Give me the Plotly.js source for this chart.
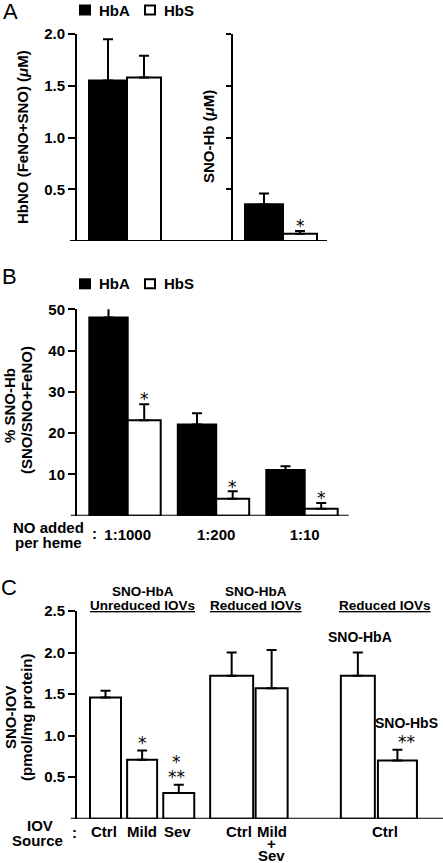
<!DOCTYPE html>
<html><head><meta charset="utf-8">
<script src="https://cdn.plot.ly/plotly-3.0.1.min.js"></script>
<style>html,body{margin:0;padding:0;background:#fff;}#chart{width:443px;height:863px;}</style>
</head><body><div id="chart"></div>
<script>
// ---------------- data ----------------
// Panel A
const aCategories = ['HbNO', 'SNO-Hb'];
const aHbA = [1.55, 0.355];
const aHbAErr = [0.40, 0.105];
const aHbS = [1.58, 0.07];
const aHbSErr = [0.21, 0.027];
const aSig = ['', '*'];
const aYTicks = [0.5, 1.0, 1.5, 2.0];
// Panel B
const bCategories = ['1:1000', '1:200', '1:10'];
const bHbA = [48.0, 22.1, 11.1];
const bHbAErr = [3.7, 2.7, 0.9];
const bHbS = [23.1, 4.1, 1.7];
const bHbSErr = [3.9, 1.8, 1.4];
const bSig = ['*', '*', '*'];
const bYTicks = [10, 20, 30, 40, 50];
// Panel C
const cBarNames = ['Ctrl', 'Mild', 'Sev', 'Ctrl', 'Mild+Sev', 'SNO-HbA', 'SNO-HbS'];
const cBarGroup = [0, 0, 0, 1, 1, 2, 2];
const cValues = [1.46, 0.71, 0.31, 1.72, 1.57, 1.72, 0.70];
const cErr = [0.08, 0.11, 0.10, 0.28, 0.46, 0.28, 0.13];
const cSig = [[], ['*'], ['*', '**'], [], [], [], ['**']];
const cBarLabels = ['', '', '', '', '', 'SNO-HbA', 'SNO-HbS'];
const cGroupTitles = [['SNO-HbA', 'Unreduced IOVs'], ['SNO-HbA', 'Reduced IOVs'], ['', 'Reduced IOVs']];
const cTickText = [['Ctrl'], ['Mild'], ['Sev'], ['Ctrl'], ['Mild', '+', 'Sev'], ['Ctrl']];
const cTickBars = [[0], [1], [2], [3], [4], [5, 6]];
const cYTicks = [0.5, 1.0, 1.5, 2.0, 2.5];

// ---------------- geometry / style (pixels) ----------------
const W = 443, H = 863;
const PX = x => x / W, PY = y => 1 - y / H;
const FAM = 'Liberation Sans, Arial, Helvetica, sans-serif';
const fB = s => ({family: FAM, size: s, color: '#000', weight: 700});
const fR = s => ({family: FAM, size: s, color: '#000', weight: 400});
const STAR_FONT = {family: 'DejaVu Sans, sans-serif', size: 17, color: '#000'};
const STAR_LIFT = 4.2;

const GA = {left: 77, right: 327, top: 34, base: 241, stub: 70, axis2: 232, c0: 127, pitch: 156, wA: 38, wS: 34};
const GB = {left: 77, right: 348.7, top: 309.3, base: 515.7, stub: 70.7, c0: 127.7, pitch: 88.5, wA: 38.4, wS: 33};
const GC = {left: 77, right: 443, top: 611, base: 818.7, stub: 70.7, c0: 105.5, slot: 37,
            groupStart: [0, 3.41, 6.82], groupStep: [0.99, 1.08, 1.07], widthsPx: [31, 30, 31, 43, 32, 34, 39],
            annShiftPx: [0, 0, -2, 0, 0, 2, 9], tickShiftPx: [-2, 0, -1, 7, 0, 7]};

function errBar(v) {
  return {type: 'data', array: v, symmetric: false, arrayminus: v.map(() => 0),
          color: '#000', thickness: 2, width: 5};
}
function bar(x, y, err, fill, xa, ya, offset, width) {
  return {type: 'bar', x, y, xaxis: xa, yaxis: ya, offset, width,
          marker: {color: fill, line: {color: '#000', width: 2}},
          error_y: errBar(err), hoverinfo: 'skip', showlegend: false};
}

const traces = [];
const annotations = [];
const shapes = [];

// ---------- Panel A ----------
const aAxes = ['y', 'y2'];
const aWA = GA.wA / GA.pitch, aWS = GA.wS / GA.pitch;
aCategories.forEach((cat, i) => {
  traces.push(bar([cat], [aHbA[i]], [aHbAErr[i]], '#000', 'x', aAxes[i], -aWA, aWA));
  traces.push(bar([cat], [aHbS[i]], [aHbSErr[i]], '#fff', 'x', aAxes[i], 0, aWS));
  if (aSig[i]) annotations.push({xref: 'x', yref: aAxes[i], x: i + aWS / 2, y: aHbS[i] + aHbSErr[i],
    text: aSig[i], showarrow: false, yanchor: 'middle', yshift: 9 - STAR_LIFT, font: STAR_FONT});
});

// ---------- Panel B ----------
const bWA = GB.wA / GB.pitch, bWS = GB.wS / GB.pitch;
traces.push(bar(bCategories, bHbA, bHbAErr, '#000', 'x2', 'y3', -bWA, bWA));
traces.push(bar(bCategories, bHbS, bHbSErr, '#fff', 'x2', 'y3', 0, bWS));
bSig.forEach((s, i) => {
  if (s) annotations.push({xref: 'x2', yref: 'y3', x: i + bWS / 2, y: bHbS[i] + bHbSErr[i],
    text: s, showarrow: false, yanchor: 'middle', yshift: 9 - STAR_LIFT, font: STAR_FONT});
});

// ---------- Panel C ----------
const cWithin = cBarGroup.map((g, i) => cBarGroup.slice(0, i).filter(v => v === g).length);
const cX = cBarGroup.map((g, i) => GC.groupStart[g] + cWithin[i] * GC.groupStep[g]);
const cW = GC.widthsPx.map(w => w / GC.slot);
traces.push({type: 'bar', x: cX, y: cValues, width: cW, xaxis: 'x3', yaxis: 'y4',
  marker: {color: '#fff', line: {color: '#000', width: 2}}, error_y: errBar(cErr),
  text: cBarNames, textposition: 'none', hoverinfo: 'skip', showlegend: false});
cValues.forEach((v, i) => {
  let off = 12;
  const lines = cSig[i].slice().reverse();
  lines.forEach(s => {
    annotations.push({xref: 'x3', yref: 'y4', x: cX[i], y: v + cErr[i], text: s, showarrow: false,
      yanchor: 'middle', yshift: off - STAR_LIFT, xshift: GC.annShiftPx[i], font: STAR_FONT});
    off += 15;
  });
  if (cBarLabels[i]) {
    if (!lines.length) off = 16;
    annotations.push({xref: 'x3', yref: 'y4', x: cX[i], y: v + cErr[i], text: cBarLabels[i], showarrow: false,
      yanchor: 'middle', yshift: off, xshift: GC.annShiftPx[i], font: fB(14)});
  }
});
const cTickVals = cTickBars.map(b => b.reduce((s, k) => s + cX[k], 0) / b.length);
const cTickLineY = [831, 843.5, 855];
cTickText.forEach((lines, t) => {
  lines.forEach((ln, k) => {
    annotations.push({xref: 'x3', yref: 'paper', x: cTickVals[t], y: PY(cTickLineY[k]), text: ln,
      showarrow: false, yanchor: 'middle', xshift: GC.tickShiftPx[t], font: fB(15)});
  });
});

// ---------- axes ----------
function yAxis(g, range, ticks, fmt, extra) {
  return Object.assign({domain: [PY(g.base), PY(g.top)], range, tickvals: ticks, ticktext: ticks.map(fmt),
    showline: true, linewidth: 2, linecolor: '#000', ticks: 'outside', ticklen: 7, tickwidth: 2, tickcolor: '#000',
    tickfont: fB(15), showgrid: false, zeroline: false, fixedrange: true}, extra || {});
}
const f1 = v => v.toFixed(1);
const layout = {
  width: W, height: H, margin: {l: 0, r: 0, t: 0, b: 0}, paper_bgcolor: '#fff', plot_bgcolor: 'rgba(0,0,0,0)',
  showlegend: false, barmode: 'overlay',
  xaxis: {domain: [PX(GA.left), PX(GA.right)], anchor: 'y', type: 'category', categoryorder: 'array',
    categoryarray: aCategories, range: [(GA.left - GA.c0) / GA.pitch, (GA.right - GA.c0) / GA.pitch],
    showline: false, showticklabels: false, ticks: '', showgrid: false, zeroline: false, fixedrange: true},
  yaxis: yAxis(GA, [0, 2.0], aYTicks, f1, {anchor: 'x'}),
  yaxis2: yAxis(GA, [0, 2.0], aYTicks, f1, {overlaying: 'y', anchor: 'free', position: PX(GA.axis2),
    showticklabels: false, ticklen: 5}),
  xaxis2: {domain: [PX(GB.left), PX(GB.right)], anchor: 'y3', type: 'category', categoryorder: 'array',
    categoryarray: bCategories, range: [(GB.left - GB.c0) / GB.pitch, (GB.right - GB.c0) / GB.pitch],
    showline: false, ticks: '', tickfont: fB(15), ticklabelstandoff: 8, showgrid: false, zeroline: false, fixedrange: true},
  yaxis3: yAxis(GB, [0, 50], bYTicks, String, {anchor: 'x2'}),
  xaxis3: {domain: [PX(GC.left), PX(GC.right)], anchor: 'y4', type: 'linear',
    range: [(GC.left - GC.c0) / GC.slot, (GC.right - GC.c0) / GC.slot],
    showticklabels: false, showline: false, ticks: '', showgrid: false, zeroline: false, fixedrange: true},
  yaxis4: yAxis(GC, [0, 2.5], cYTicks, f1, {anchor: 'x3'}),
  shapes, annotations
};

// baselines
[[GA, 'y'], [GB, 'y3'], [GC, 'y4']].forEach(([g, ya]) => {
  shapes.push({type: 'line', xref: 'paper', yref: ya, x0: PX(g.stub), x1: PX(g.right), y0: 0, y1: 0,
    line: {color: '#000', width: 2}});
});

// legends (A and B)
function legend(cy) {
  shapes.push({type: 'rect', xref: 'paper', yref: 'paper', x0: PX(79), x1: PX(91), y0: PY(cy - 5.5), y1: PY(cy + 5.5),
    fillcolor: '#000', line: {width: 0}});
  shapes.push({type: 'rect', xref: 'paper', yref: 'paper', x0: PX(145), x1: PX(155), y0: PY(cy - 4.5), y1: PY(cy + 4.5),
    fillcolor: '#fff', line: {color: '#000', width: 2}});
  annotations.push({xref: 'paper', yref: 'paper', x: PX(97), y: PY(cy), text: 'HbA', showarrow: false,
    xanchor: 'left', yanchor: 'middle', font: fB(15)});
  annotations.push({xref: 'paper', yref: 'paper', x: PX(162), y: PY(cy), text: 'HbS', showarrow: false,
    xanchor: 'left', yanchor: 'middle', font: fB(15)});
}
legend(10);
legend(283.8);

function txt(text, x, y, font, extra) {
  annotations.push(Object.assign({xref: 'paper', yref: 'paper', x: PX(x), y: PY(y), text, showarrow: false,
    xanchor: 'center', yanchor: 'middle', font}, extra || {}));
}
// panel letters
txt('A', 10, 11, fR(22));
txt('B', 9, 276, fR(22));
txt('C', 9, 587, fR(22));
// axis titles
txt('HbNO (FeNO+SNO) (<i>μ</i>M)', 22, 137, fB(15), {textangle: -90});
txt('SNO-Hb (<i>μ</i>M)', 208, 137, fB(15), {textangle: -90});
txt('% SNO-Hb', 10, 406, fB(15), {textangle: -90});
txt('(SNO/SNO+FeNO)', 26, 410, fB(15), {textangle: -90});
txt('SNO-IOV', 10, 718, fB(15), {textangle: -90});
txt('(pmol/mg protein)', 26, 717, fB(15), {textangle: -90});
// x-axis row captions
txt('NO added', 48, 527, fB(15));
txt('per heme', 48, 542, fB(15));
txt(':', 94, 533, fB(15));
txt('IOV', 40, 825, fB(15));
txt('Source', 37.5, 840, fB(15));
txt(':', 74, 832, fB(15));
// group titles panel C
const cHeadX = [142.5, 256, 385];
cGroupTitles.forEach((lines, g) => {
  if (lines[0]) txt(lines[0], cHeadX[g], 591.5, fB(13.5));
  txt('<u>' + lines[1] + '</u>', cHeadX[g], 605, fB(13.5));
});

Plotly.newPlot('chart', traces, layout, {staticPlot: true, displayModeBar: false});
</script></body></html>
